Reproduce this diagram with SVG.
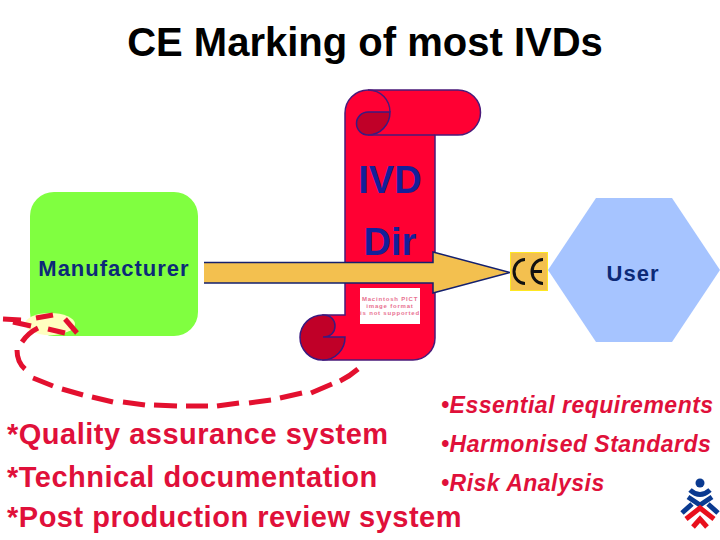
<svg xmlns="http://www.w3.org/2000/svg" width="720" height="540" viewBox="0 0 720 540">
<style>
text{font-family:"Liberation Sans",Arial,sans-serif}
.b{font-weight:bold}
.n{font-weight:bold;font-size:22px;fill:#0c2a78;letter-spacing:1px;text-anchor:middle}
.t{font-weight:bold;fill:#e0103a;font-size:29px;letter-spacing:.5px}
.i{font-weight:bold;font-style:italic;fill:#e0103a;font-size:23px;letter-spacing:.5px}
.red{fill:#ff0033;stroke:#4a1a7a;stroke-width:1.5}
.dark{fill:#c00028;stroke:#3a1a80;stroke-width:1.5}
.d{fill:none;stroke:#e3102f;stroke-width:5}
.lb{fill:none;stroke:#0a3a90;stroke-width:5}
.lr{fill:none;stroke:#e8101c;stroke-width:5}
</style>
<rect width="720" height="540" fill="#fff"/>
<text class="b" x="365" y="56" font-size="40" text-anchor="middle" fill="#000">CE Marking of most IVDs</text>
<g id="manufacturer">
<rect x="30" y="192" width="168" height="144" rx="24" fill="#80ff40"/>
<text class="n" x="114" y="276">Manufacturer</text>
</g>
<g id="user">
<polygon points="548,270 596,198 672,198 720,270 672,342 596,342" fill="#a6c4ff"/>
<text class="n" x="633" y="281">User</text>
</g>
<g id="scroll">
<path class="red" d="M345 113 A23 23 0 0 1 368 90 H458 A22.500 22.500 0 0 1 458 135 H435 V338 A22 22 0 0 1 413 360 H323 V315 H345 Z"/>
<path class="dark" d="M323 337 H345 A22.500 22.500 0 1 1 323 315 C331 315 335 320 335 326 C335 332 331 337 323 337 Z"/>
<path class="dark" d="M390 112 H368 A11.500 11.500 0 0 0 368 135 C380 135 390 125 390 112 Z"/>
<path d="M368 90 C381 90 390 100 390 112 M368 135 H435" fill="none" stroke="#4a1a7a" stroke-width="1.500"/>
<text class="b" x="390" y="193" font-size="38" text-anchor="middle" fill="#14209a">IVD</text>
<text class="b" x="390" y="255" font-size="38" text-anchor="middle" fill="#14209a">Dir</text>
<rect x="360" y="288" width="60" height="36" fill="#fff"/>
<g fill="#e87090" font-size="6" font-weight="bold" text-anchor="middle" letter-spacing=".8">
<text x="390" y="301">Macintosh PICT</text>
<text x="390" y="308">image format</text>
<text x="390" y="315">is not supported</text>
</g>
</g>
<g id="connectors">
<path d="M204 262.500 H433 V252 L510 272.500 L433 293 V283 H204 Z" fill="#f3c04f"/>
<path d="M204 262.500 H433 V252 L510 272.500 L433 293 V283 H204" fill="none" stroke="#14206e" stroke-width="1.500"/>
<ellipse cx="50" cy="324" rx="25" ry="11" fill="#ffffc0"/>
<path class="d" d="M3 319 L21 320"/>
<path class="d" d="M13 322 L31 326"/>
<path class="d" d="M36 318 L53 315"/>
<path class="d" d="M65 319 L77 333"/>
<path class="d" d="M48 329 L65 333"/>
<path class="d" d="M38 328 Q28 333 22 342"/>
<path class="d" d="M17 350 Q17 362 25 369"/>
<path class="d" d="M33 378 L53 386"/>
<path class="d" d="M62 389 L83 395"/>
<path class="d" d="M92 397 L113 402"/>
<path class="d" d="M123 402 L145 405"/>
<path class="d" d="M154 405 L177 406"/>
<path class="d" d="M186 406 L208 406"/>
<path class="d" d="M217 406 L239 403"/>
<path class="d" d="M249 403 L271 400"/>
<path class="d" d="M280 398 L302 393"/>
<path class="d" d="M311 393 L332 384"/>
<path class="d" d="M340 381 Q350 376 358 369"/>
</g>
<g id="ce-mark">
<rect x="510.500" y="252.500" width="37" height="38" fill="#f3c04f" stroke="#ffe820"/>
<path d="M525 259.500 A11 12 0 0 0 525 283.500" fill="none" stroke="#111" stroke-width="3"/>
<path d="M543 259.500 A11 12 0 0 0 543 283.500 M533 271.500 H542" fill="none" stroke="#111" stroke-width="3"/>
</g>
<text class="t" x="7" y="444">*Quality assurance system</text>
<text class="t" x="7" y="487">*Technical documentation</text>
<text class="t" x="7" y="527">*Post production review system</text>
<text class="i" x="441" y="413">•Essential requirements</text>
<text class="i" x="441" y="452">•Harmonised Standards</text>
<text class="i" x="441" y="491">•Risk Analysis</text>
<g id="logo">
<circle cx="700" cy="483" r="4.500" fill="#0a3a90"/>
<path class="lb" d="M690 490 Q700 499 710 490"/>
<path class="lb" d="M688 497 L700 505 L712 497"/>
<path class="lb" d="M682 513 L692 504 M718 513 L708 504"/>
<path class="lr" d="M686 519 L700 508 L714 519"/>
<path class="lr" d="M693 527 L700 519 L707 527"/>
</g>
</svg>
